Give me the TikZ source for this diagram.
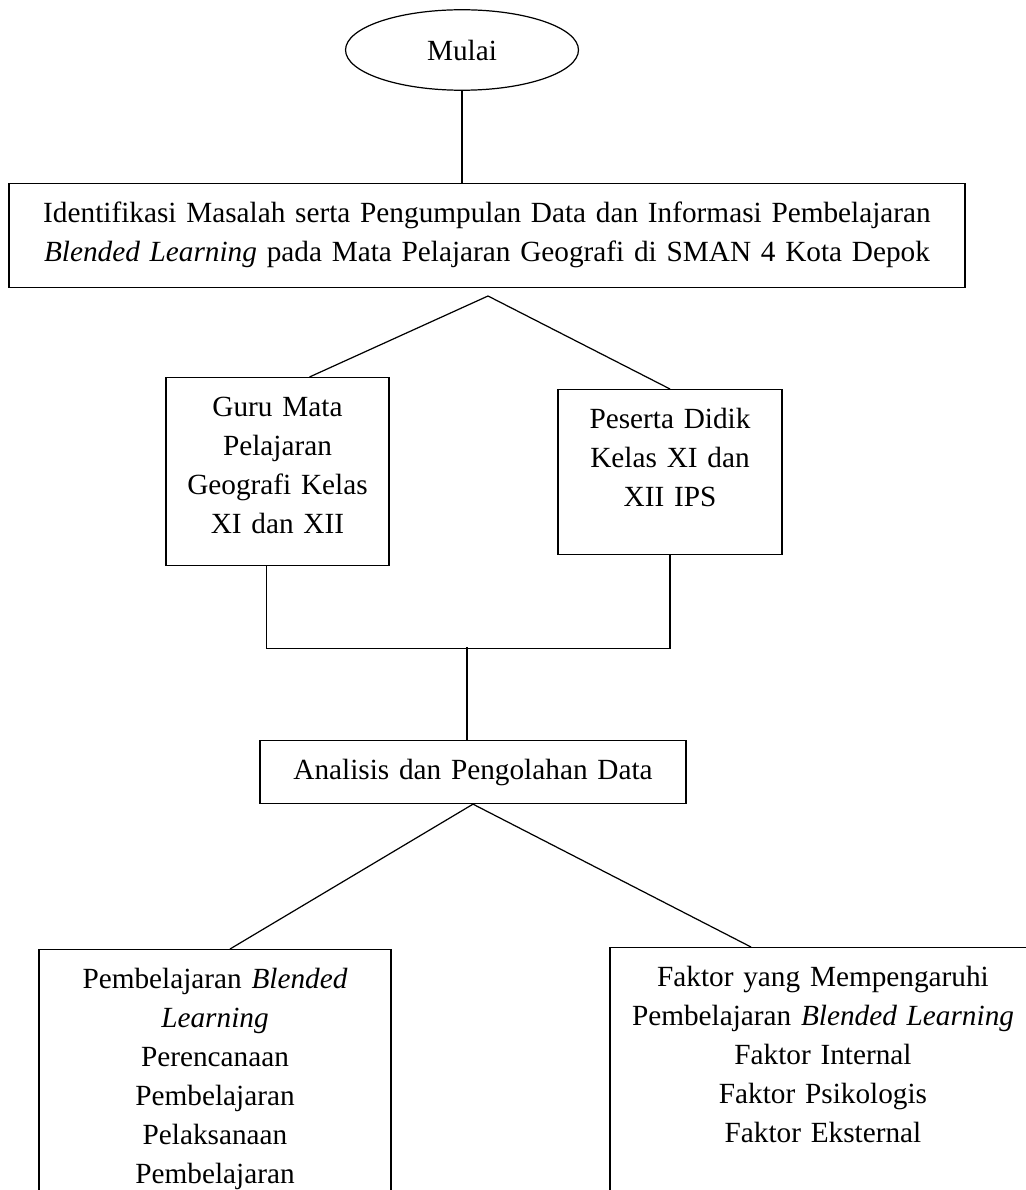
\documentclass[tikz,border=0pt]{standalone}
\usepackage{fontspec}
\setmainfont{Liberation Serif}
\usetikzlibrary{shapes.geometric,calc}

\begin{document}
\begin{tikzpicture}[x=0.41pt,y=-0.41pt,
  line width=0.5pt,
  every node/.style={font=\fontsize{12}{16}\selectfont},
  start node/.style={ellipse,draw,minimum width=95.5pt,minimum height=33pt,inner sep=0pt},
  box/.style={rectangle,draw,align=center,anchor=north,inner xsep=0pt,inner ysep=6pt,text height=10pt}]

\useasboundingbox (0,0) rectangle (1026,1190);
\clip (0,0) rectangle (1026,1190);

  \node[start node] (mulai) at (462,50){Mulai};
  \node[box,text width=392pt,text depth=20.6pt] (idf) at (487,183){Identifikasi Masalah serta Pengumpulan Data dan Informasi Pembelajaran\\
    \textit{Blended Learning} pada Mata Pelajaran Geografi di SMAN 4 Kota Depok};
  \node[box,text width=91.4pt,text depth=55.1pt] (guru) at (277.5,377){Guru Mata\\ Pelajaran\\ Geografi Kelas\\ XI dan XII};
  \node[box,text width=91.8pt,text depth=45.7pt] (peserta) at (670,389){Peserta Didik\\ Kelas XI dan\\ XII IPS};
  \node[box,text width=174.7pt,text depth=3.8pt] (analisis) at (473,740){Analisis dan Pengolahan Data};
  \node[box,text width=144.3pt,text depth=110pt] (bl) at (215,949){Pembelajaran \textit{Blended}\\ \textit{Learning}\\ Perencanaan\\ Pembelajaran\\ Pelaksanaan\\ Pembelajaran};
  \node[box,text width=174.7pt,text depth=110pt] (faktor) at (823,947){Faktor yang Mempengaruhi\\ Pembelajaran \textit{Blended Learning}\\ Faktor Internal\\ Faktor Psikologis\\ Faktor Eksternal};

  \coordinate (top1) at (488,296);
  \coordinate (join) at (467,647);

  \path
    (mulai.south) edge (mulai.south |- idf.north)
    (top1) edge ($(guru.north)+(32,0)$)
    (top1) edge (peserta.north)
    (join) edge (join |- analisis.north)
    (analisis.south) edge ($(bl.north)+(15,0)$)
    (analisis.south) edge ($(faktor.north)+(-72,0)$);
  \draw ($(guru.south)+(-11,0)$) -- ++(0,82) -| (peserta.south);
\end{tikzpicture}
\end{document}
